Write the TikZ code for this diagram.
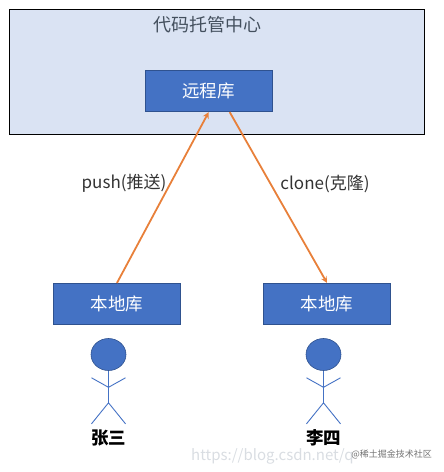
\documentclass[tikz,border=0pt]{standalone}
\usepackage{fontspec}
\setmainfont{Noto Sans CJK SC}
\usepackage{xcolor}
\usetikzlibrary{shapes,arrows,positioning,calc}
\definecolor{hubfill}{HTML}{DAE3F3}
\definecolor{repoblue}{HTML}{4472C4}
\definecolor{repoedge}{HTML}{2F528F}
\definecolor{flowline}{HTML}{E8803A}
\definecolor{titlegray}{HTML}{44505E}
\definecolor{markgray}{HTML}{D9DDE2}

\begin{document}
\begin{tikzpicture}[
  x=1pt, y=-1pt,
  hub/.style={rectangle, draw=black, line width=0.9pt, fill=hubfill, minimum width=415pt, minimum height=125pt, inner sep=0pt},
  repo/.style={rectangle, draw=repoedge, line width=0.7pt, fill=repoblue, minimum width=127pt, minimum height=41.5pt,
               inner sep=0pt, text=white, font=\fontsize{17.5pt}{20pt}\selectfont},
  headdot/.style={ellipse, draw=repoedge, line width=0.6pt, fill=repoblue, minimum width=35pt, minimum height=32pt, inner sep=0pt},
  stick/.style={draw=repoblue, line width=0.9pt},
  flowtext/.style={font=\fontsize{17pt}{20pt}\selectfont, text=black!80, inner sep=0pt},
  person/.style={font=\fontsize{17.5pt}{20pt}\selectfont\bfseries, inner sep=0pt},
  arrow/.style={->, >=stealth, flowline, line width=1.8pt}
]
\useasboundingbox (0,0) rectangle (444,472);

% Hosting centre
\node[hub] (hub) at (217,72) {};
\node[font=\fontsize{18pt}{20pt}\selectfont, text=titlegray, inner sep=0pt] (hubtitle) at (207,25) {代码托管中心};
\node[repo] (remote) at (208.7,91) {远程库};

% Local repositories
\node[repo] (localzhang) at (117,304) {本地库};
\node[repo] (localli) at (327,304) {本地库};

% People
\node[headdot] (headzhang) at (108.5,354.5) {};
\node[headdot] (headli) at (323.5,354.5) {};
\foreach \who in {zhang,li} {
  \draw[stick] (head\who.south) -- ++(0,32) coordinate (hip\who);
  \draw[stick] ($(head\who.south)+(-17,7)$) -- ++(17,9.5) -- ++(17,-9.5);
  \draw[stick] ($(hip\who)+(-17,21)$) -- (hip\who) -- ++(17,21);
}
\node[person, below=27pt of hipzhang] (zhang) {张三};
\node[person, below=27pt of hipli] (li) {李四};

% Arrows
\coordinate (cloneout) at ($(remote.south)+(21,0)$);
\draw[arrow] (localzhang.north) -- (remote.south);
\draw[arrow] (cloneout) -- (localli.north);
\node[flowtext] (push) at (124,183) {push(推送)};
\node[flowtext] (clone) at (325,184) {clone(克隆)};

% Watermarks
\node[font=\fontsize{15pt}{18pt}\selectfont, text=markgray, inner sep=0pt, anchor=west] (csdn) at (191,456) {https://blog.csdn.net/q};
\node[font=\fontsize{9pt}{11pt}\selectfont, text=black!55, inner sep=0pt, anchor=east] (juejin) at (432,454) {@稀土掘金技术社区};
\end{tikzpicture}
\end{document}
